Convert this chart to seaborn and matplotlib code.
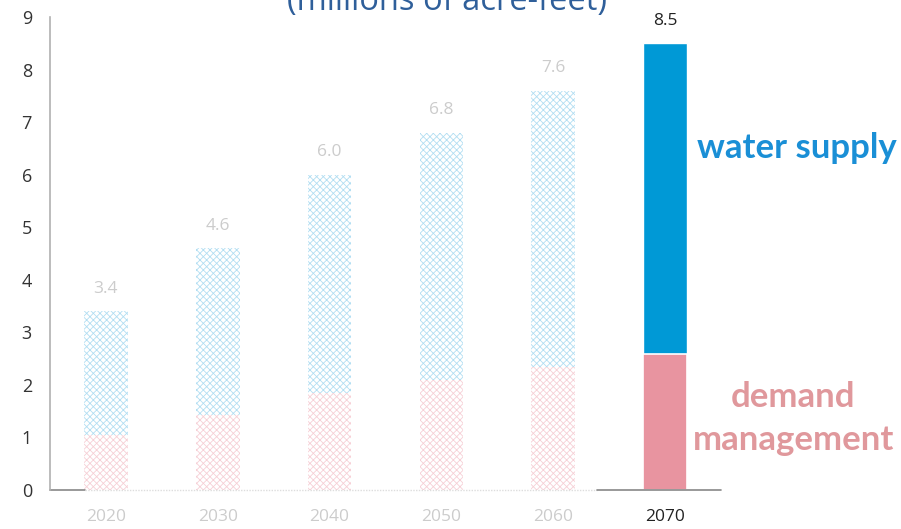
import matplotlib.pyplot as plt
import seaborn as sns
import pandas as pd

years = ["2020", "2030", "2040", "2050", "2060", "2070"]
totals = [3.4, 4.6, 6.0, 6.8, 7.6, 8.5]
demand = [1.05, 1.43, 1.84, 2.09, 2.34, 2.58]
yticks = [0, 1, 2, 3, 4, 5, 6, 7, 8, 9]

supply_col = "#0099d6"
demand_col = "#e894a0"
supply_pale = "#b2def2"
demand_pale = "#f6d0d6"

df = pd.DataFrame({"year": years, "total": totals, "demand": demand})

sns.set_style("white")
plt.rcParams["font.family"] = ["Open Sans", "DejaVu Sans"]
plt.rcParams["hatch.linewidth"] = 0.6

fig = plt.figure(figsize=(9.01, 5.29), dpi=100)
ax = fig.add_axes([50 / 901, 39 / 529, 671 / 901, 473 / 529])

sns.barplot(data=df, x="year", y="total", ax=ax, width=0.39, color=supply_col, saturation=1)
sns.barplot(data=df, x="year", y="demand", ax=ax, width=0.39, color=demand_col, saturation=1)

n = len(years)
for i, p in enumerate(ax.patches[:n]):
    if i < n - 1:
        p.set_facecolor("white")
        p.set_edgecolor(supply_pale)
        p.set_hatch("xxxxx")
        p.set_linewidth(0)
for i, p in enumerate(ax.patches[n:2 * n]):
    if i < n - 1:
        p.set_facecolor("white")
        p.set_edgecolor(demand_pale)
        p.set_hatch("xxxxx")
        p.set_linewidth(0)
    else:
        p.set_edgecolor("white")
        p.set_linewidth(1.2)

for i, t in enumerate(totals):
    ax.text(i, t + 0.43, f"{t:.1f}", ha="center", va="center", fontsize=12.5,
            color="#222222" if i == n - 1 else "#cccccc")

ax.set_xlim(-0.5, 5.5)
ax.set_ylim(0, 9)
ax.set_yticks(yticks)
ax.set_xlabel("")
ax.set_ylabel("")
ax.tick_params(axis="y", length=5, color="#b0b0b0", labelsize=13, labelcolor="#333333", pad=8)
ax.tick_params(axis="x", length=0, labelsize=12.5, pad=14)
for i, lab in enumerate(ax.get_xticklabels()):
    lab.set_color("#222222" if i == n - 1 else "#cccccc")

for s in ["top", "right", "bottom"]:
    ax.spines[s].set_visible(False)
ax.spines["left"].set_color("#b0b0b0")
ax.spines["left"].set_linewidth(1.2)

# baseline: solid at ends, faded under the projected bars
ax.plot([-0.5, -0.19], [0, 0], color="#888888", lw=1.2, clip_on=False)
ax.plot([-0.19, 4.39], [0, 0], color="#dddddd", lw=1, ls=(0, (1, 1)), clip_on=False)
ax.plot([4.39, 5.5], [0, 0], color="#888888", lw=1.2, clip_on=False)

fig.text(447 / 901, 519 / 529, "(millions of acre-feet)", ha="center", va="baseline",
         fontsize=23.5, color="#2f5f9a")
label_font = ["Lato", "DejaVu Sans"]
fig.text(797 / 901, 381 / 529, "water supply", ha="center", va="center",
         fontsize=25, fontweight="bold", color="#1a8fd6", family=label_font)
fig.text(793 / 901, 132 / 529, "demand", ha="center", va="center",
         fontsize=25, fontweight="bold", color="#e0989c", family=label_font)
fig.text(794 / 901, 89 / 529, "management", ha="center", va="center",
         fontsize=25, fontweight="bold", color="#e0989c", family=label_font)

fig.savefig("out.png", dpi=100)
